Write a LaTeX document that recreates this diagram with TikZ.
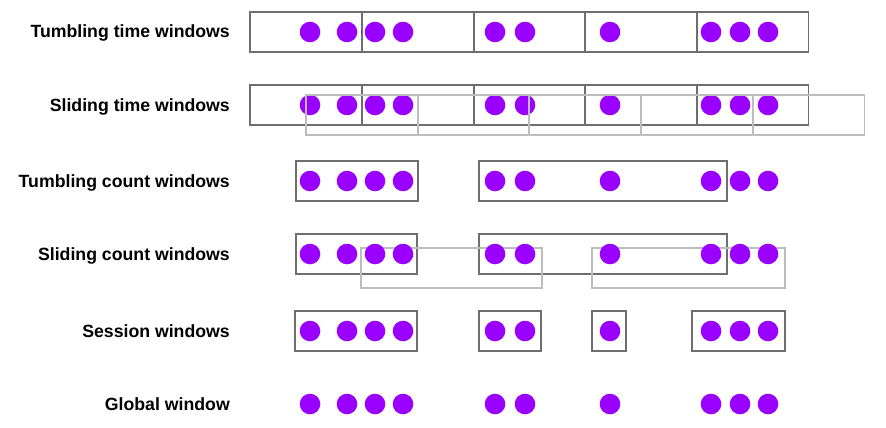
\documentclass[tikz,border=0pt]{standalone}
\usepackage{fontspec}
\setmainfont{Liberation Sans}
\definecolor{evtcol}{HTML}{9900FF}
\definecolor{wincol}{HTML}{6E6E6E}
\definecolor{slidecol}{HTML}{BDBDBD}

\begin{document}
\begin{tikzpicture}[x=1pt,y=-1pt]
\tikzstyle{evt}=[fill=evtcol]
\tikzstyle{win}=[draw=wincol,line width=1.2pt]
\tikzstyle{slidewin}=[draw=slidecol,line width=1.2pt]
\tikzstyle{every node}=[font=\fontsize{17.7}{20}\selectfont\bfseries,
  anchor=base east,inner sep=0pt]

\useasboundingbox (0,0) rectangle (886,428);

%row labels
\node (tumbtime) at (230,38) {Tumbling time windows};
\node (slidetime) at (230,111) {Sliding time windows};
\node (tumbcount) at (230,187) {Tumbling count windows};
\node (slidecount) at (230,260) {Sliding count windows};
\node (session) at (230,337) {Session windows};
\node (global) at (230,410) {Global window};

%tumbling and sliding time windows
\foreach \x in {250,362,474,585,697}
{
  \draw[win] (\x,12) rectangle ++(111.8,40);
  \draw[win] (\x,85) rectangle ++(111.8,40);
}

%count windows
\draw[win] (296,161) rectangle (418,201);
\draw[win] (479,161) rectangle (727,201);
\draw[win] (296,234) rectangle (417,274);
\draw[win] (479,234) rectangle (727,274);
\draw[slidewin] (361,248) rectangle (542,288);
\draw[slidewin] (592,248) rectangle (785,288);

%session windows
\draw[win] (295,311) rectangle (417,351);
\draw[win] (479,311) rectangle (541,351);
\draw[win] (592,311) rectangle (626,351);
\draw[win] (692,311) rectangle (785,351);

%events
\foreach \y in {32,105,181,254,331,404}
  \foreach \x in {310,347,375,403,495,525,610,711,740,768}
    \fill[evt] (\x,\y) circle[radius=10.3];

%sliding time windows on top
\foreach \x in {306,418,529,641,753}
  \draw[slidewin] (\x,95) rectangle ++(111.6,40);

\end{tikzpicture}
\end{document}
